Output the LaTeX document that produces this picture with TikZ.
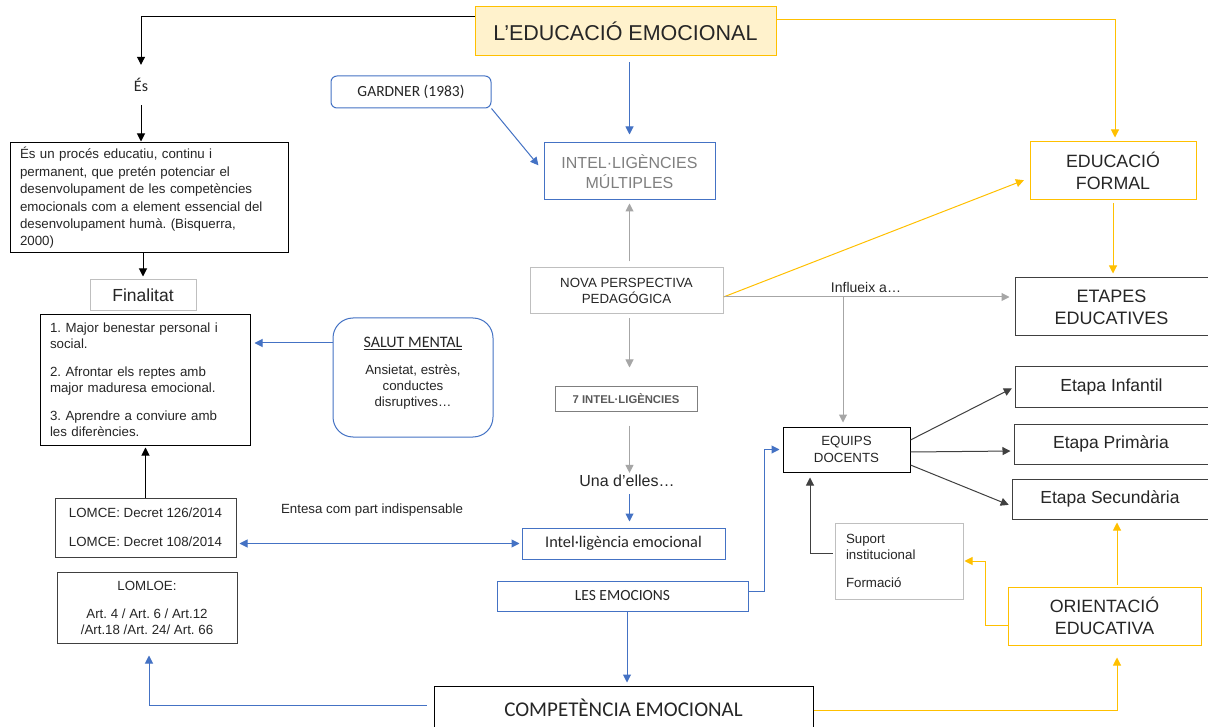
\documentclass[tikz,border=0pt]{standalone}
\usepackage{fontspec}
\setmainfont{Liberation Sans}
\newfontfamily\calib{Carlito}
\usetikzlibrary{arrows.meta}
\definecolor{bl}{HTML}{4472C4}
\definecolor{gd}{HTML}{FFC000}
\definecolor{yf}{HTML}{FFF2CC}
\definecolor{lg}{HTML}{A6A6A6}
\definecolor{bg}{HTML}{BFBFBF}
\definecolor{tx}{HTML}{262626}
\definecolor{gsf}{HTML}{7F7F7F}
\definecolor{gff}{HTML}{595959}
\definecolor{dk}{HTML}{404040}
\newcommand\sz[2]{\fontsize{#1}{#2}\selectfont}
\frenchspacing
\begin{document}
\frenchspacing
\begin{tikzpicture}[x=1pt,y=-1pt,
  arr/.style={line width=1pt,-{Triangle[length=8pt,width=8pt]}},
  dbl/.style={line width=1pt,{Triangle[length=8pt,width=8pt]}-{Triangle[length=8pt,width=8pt]}},
  box/.style={draw=dk, line width=1pt, inner sep=0pt, align=center, text=tx},
  small/.style={font=\sz{13.3}{16}}]
\fill[white] (0,0) rectangle (1208,727);
\useasboundingbox (0,0) rectangle (1208,727);

% nodes
\node[box, draw=gd, fill=yf, minimum width=301pt, minimum height=49pt, font=\sz{21.5}{24}] (top) at (625.5,31.5) {L’EDUCACIÓ EMOCIONAL};
\node[font=\calib\sz{16}{18}, text=tx, minimum height=40pt, inner sep=0pt] (es) at (141,85) {És};
\node[box, draw=black, minimum width=278pt, minimum height=110pt, align=left, text width=258pt, font=\sz{13.3}{17.4}] (def) at (149,198)
  {És un procés educatiu, continu i\\permanent, que pretén potenciar el\\desenvolupament de les competències\\emocionals com a element essencial del\\desenvolupament humà. (Bisquerra,\\2000)};
\node[box, draw=bg, minimum width=106pt, minimum height=31pt, font=\sz{17.5}{20}] (fin) at (143,295.5) {Finalitat};
\node[box, draw=black, minimum width=210pt, minimum height=130pt, align=left, text width=190pt, small] (list) at (145,380)
  {1. Major benestar personal i\\social.\\[12pt]2. Afrontar els reptes amb\\major maduresa emocional.\\[12pt]3. Aprendre a conviure amb\\les diferències.};
\node[box, draw=bl, rounded corners=20pt, minimum width=160pt, minimum height=119pt, small] (salut) at (413,377.5)
  {{\calib\sz{16}{18}\underline{SALUT MENTAL}}\\[11pt]Ansietat, estrès,\\conductes\\disruptives…\\[-4pt]\mbox{}};
\node[box, minimum width=181pt, minimum height=59pt, small] (lomce) at (145.5,527.5) {LOMCE: Decret 126/2014\\[13pt]LOMCE: Decret 108/2014};
\node[box, minimum width=180pt, minimum height=71pt, small] (lomloe) at (147,607.5) {LOMLOE:\\[12pt]Art. 4 / Art. 6 / Art.12\\/Art.18 /Art. 24/ Art. 66};
\node[small, text=tx] (entesa) at (372,510) {Entesa com part indispensable};

\node[box, draw=bl, rounded corners=6pt, minimum width=160pt, minimum height=32pt, font=\calib\sz{15.5}{18}] (gardner) at (411,92) {GARDNER (1983)};
\node[box, draw=bl, minimum width=171pt, minimum height=57pt, text=gsf, font=\sz{16}{20}] (multi) at (629.5,171.5) {INTEL·LIGÈNCIES\\MÚLTIPLES};
\node[box, draw=bg, minimum width=193pt, minimum height=46pt, small] (nova) at (626.5,291) {NOVA PERSPECTIVA\\PEDAGÓGICA};
\node[box, draw=gsf, minimum width=142pt, minimum height=24pt, text=gff, font=\bfseries\sz{11.3}{13}] (seven) at (626,399) {7 INTEL·LIGÈNCIES};
\node[font=\sz{16}{18}, text=tx, inner sep=2pt] (una) at (627,481) {Una d’elles…};
\node[box, draw=bl, minimum width=203pt, minimum height=31pt, font=\calib\sz{16.3}{18}] (intel) at (623.5,543.5) {Intel·ligència emocional};
\node[box, draw=bl, minimum width=251pt, minimum height=30pt, font=\calib\sz{15.5}{18}] (emoc) at (622.5,596) {LES EMOCIONS};
\node[box, draw=black, minimum width=379pt, minimum height=44pt, font=\calib\sz{21}{24}] (comp) at (623.5,708) {COMPETÈNCIA EMOCIONAL};

\node[box, draw=gd, minimum width=166pt, minimum height=58pt, font=\sz{17.8}{22}] (ef) at (1113,171) {EDUCACIÓ\\FORMAL};
\node[box, minimum width=193pt, minimum height=58pt, font=\sz{18}{22}] (etapes) at (1111.5,307) {ETAPES\\EDUCATIVES};
\node[font=\sz{14}{16}, text=tx] (infl) at (866,287) {Influeix a…};
\node[box, draw=black, minimum width=127pt, minimum height=45pt, font=\sz{13.3}{17}] (equips) at (846.5,449.5) {EQUIPS\\DOCENTS};
\node[box, minimum width=193pt, minimum height=40pt, font=\sz{17.5}{20}] (inf) at (1111.5,387) {Etapa Infantil};
\node[box, minimum width=194pt, minimum height=40pt, font=\sz{17.5}{20}] (prim) at (1111,444) {Etapa Primària};
\node[box, minimum width=196pt, minimum height=40pt, font=\sz{17.5}{20}] (sec) at (1110,499) {Etapa Secundària};
\node[box, draw=bg, minimum width=128pt, minimum height=76pt, align=left, text width=106pt, small] (suport) at (899,561) {Suport\\institucional\\[12pt]Formació};
\node[box, draw=gd, minimum width=193pt, minimum height=58pt, font=\sz{17.8}{22}] (orient) at (1104.5,616) {ORIENTACIÓ\\EDUCATIVA};

% connectors
\draw[arr] ([yshift=14.5pt]top.west) -| (es.north);
\draw[arr, shorten >=1pt] (es.south) -- (es.south |- def.north);
\draw[arr, shorten >=3pt] (fin.north |- def.south) -- (fin.north);
\draw[arr, bl, shorten >=4pt] (salut.west |- 0,343) -- (list.east |- 0,343);
\draw[arr, shorten >=2pt] (lomce.north) -- (lomce.north |- list.south);
\draw[dbl, bl, shorten <=3pt, shorten >=2pt] (lomce.east |- intel.west) -- (intel.west);
\draw[arr, bl, shorten <=7pt, shorten >=12pt] (comp.west |- 0,705) -| ([xshift=2pt]lomloe.south);
\draw[arr, gd, shorten >=12pt] (comp.east |- 0,710) -| ([xshift=12.5pt]orient.south);

\draw[arr, bl, shorten >=8pt] (gardner.south east) -- (multi.west);
\draw[arr, bl, shorten <=6pt, shorten >=8pt] (multi.north |- top.south) -- (multi.north);
\draw[arr, lg, shorten <=6pt, shorten >=3pt] (multi.south |- nova.north) -- (multi.south);
\draw[arr, lg, shorten <=4pt, shorten >=19pt] (multi.south |- nova.south) -- (multi.south |- seven.north);
\draw[arr, lg, shorten <=14pt] (multi.south |- seven.south) -- (multi.south |- una.north);
\draw[arr, bl, shorten <=5pt, shorten >=6pt] (multi.south |- una.south) -- (multi.south |- intel.north);
\draw[arr, bl, shorten >=3pt] ([xshift=4.5pt]emoc.south) -- ([xshift=4.5pt]emoc.south |- comp.north);
\draw[arr, bl, shorten >=3pt] (emoc.east |- 0,591) -- ++(16,0) |- (equips.west);

\draw[arr, gd, shorten >=6pt] (nova.east |- 0,297) -- ([yshift=-7pt]ef.west);
\draw[arr, lg, shorten >=5pt] (nova.east |- 0,297) -- (etapes.west |- 0,297);
\coordinate (j) at (843,297);
\draw[arr, lg, shorten >=4pt] (j) -- (j |- equips.north);
\draw[arr, dk, shorten >=3pt] (equips.east |- 0,440) -- (inf.west);
\draw[arr, dk, shorten >=3pt] (equips.east |- 0,452) -- (prim.west |- 0,451);
\draw[arr, dk, shorten >=3pt] (equips.east |- 0,465) -- (sec.west |- 0,506);
\draw[arr, dk, shorten <=2pt, shorten >=5pt] (suport.west |- 0,553) -| ([xshift=-36.5pt]equips.south);
\draw[arr, gd, shorten >=1pt] (orient.west |- 0,625) -- ++(-22,0) |- (suport.east);
\draw[arr, gd, shorten <=2pt, shorten >=3pt] ([xshift=12.5pt]orient.north) -- ([xshift=7pt]sec.south);
\draw[arr, gd, shorten >=4pt] ([yshift=11.5pt]top.east) -| ([xshift=2pt]ef.north);
\draw[arr, gd, shorten <=3pt, shorten >=4pt] (ef.south) -- (ef.south |- etapes.north);
\end{tikzpicture}
\end{document}
